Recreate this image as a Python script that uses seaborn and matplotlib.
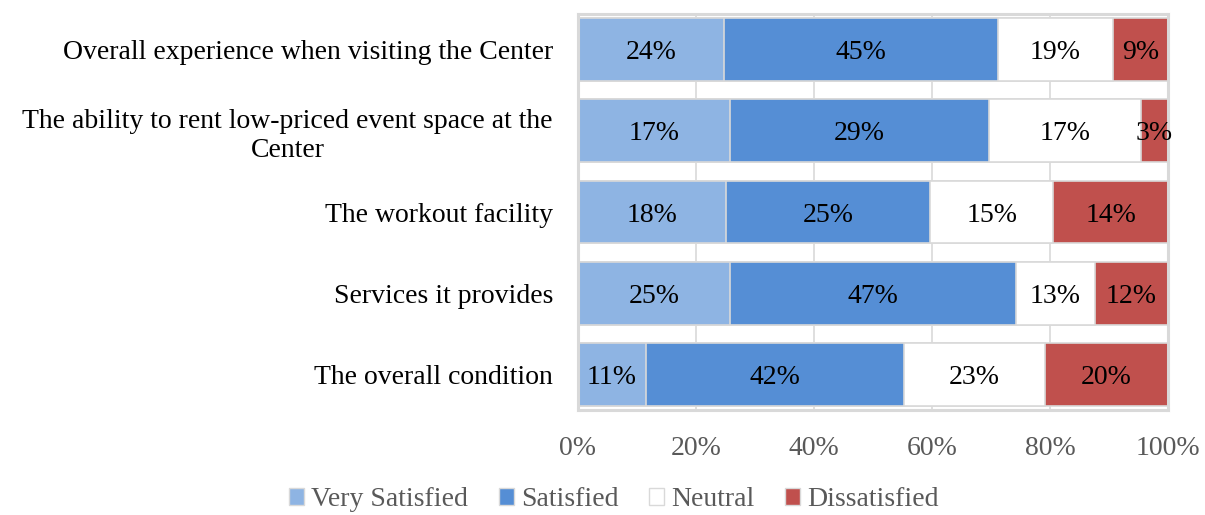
import numpy as np
import pandas as pd
import matplotlib
matplotlib.use("Agg")
import matplotlib.pyplot as plt
import seaborn as sns
from matplotlib.patches import Patch

categories = [
    "Overall experience when visiting the Center",
    "The ability to rent low-priced event space at the\nCenter",
    "The workout facility",
    "Services it provides",
    "The overall condition",
]
series_names = ["Very Satisfied", "Satisfied", "Neutral", "Dissatisfied"]
very_satisfied = [24, 17, 18, 25, 11]
satisfied = [45, 29, 25, 47, 42]
neutral = [19, 17, 15, 13, 23]
dissatisfied = [9, 3, 14, 12, 20]
x_ticks = [0, 20, 40, 60, 80, 100]
x_tick_labels = ["0%", "20%", "40%", "60%", "80%", "100%"]

colors = ["#8EB4E3", "#558ED5", "#FFFFFF", "#C0504D"]

sns.set_theme(style="white")
plt.rcParams["font.family"] = ["Liberation Serif", "DejaVu Serif"]
FS = 20

values = np.array([very_satisfied, satisfied, neutral, dissatisfied], dtype=float)
totals = values.sum(axis=0)
shares = values / totals * 100
cum = np.cumsum(shares, axis=0)

fig = plt.figure(figsize=(12.05, 5.15), dpi=100)
ax = fig.add_axes([578 / 1205, 1 - 410 / 515, 590 / 1205, 396 / 515])

# draw cumulative bars from the largest down so each segment shows
for i in range(len(series_names) - 1, -1, -1):
    df = pd.DataFrame({"cat": categories, "val": cum[i]})
    sns.barplot(data=df, y="cat", x="val", orient="y", color=colors[i],
                width=0.775, edgecolor="#D9D9D9", linewidth=1.2,
                saturation=1, ax=ax, zorder=2)

# data labels at segment centers
for i in range(len(series_names)):
    starts = cum[i] - shares[i]
    for j in range(len(categories)):
        ax.text(starts[j] + shares[i, j] / 2, j, f"{int(values[i, j])}%",
                ha="center", va="center_baseline", fontsize=FS, color="black", zorder=5)

ax.set_xlim(0, 100)
ax.set_ylim(4.44, -0.44)
ax.set_xticks(x_ticks)
ax.set_xticklabels(x_tick_labels, fontsize=FS, color="#595959")
ax.set_xlabel("")
ax.set_ylabel("")
ax.tick_params(axis="x", length=0, pad=19)
ax.tick_params(axis="y", length=0, pad=18, labelsize=FS, labelcolor="black")
for lab in ax.get_yticklabels():
    lab.set_multialignment("center")
    lab.set_linespacing(1.22)

ax.xaxis.grid(True, color="#D9D9D9", linewidth=1.2, zorder=0)
ax.yaxis.grid(False)
ax.set_axisbelow(True)
for s in ax.spines.values():
    s.set_visible(True)
    s.set_color("#D9D9D9")
    s.set_linewidth(2.2)

handles = [Patch(facecolor=c, edgecolor="#D9D9D9", linewidth=1) for c in colors]
fig.legend(handles, series_names, loc="center", bbox_to_anchor=(614 / 1205, 1 - 500 / 515),
           ncol=4, frameon=False, fontsize=FS, labelcolor="#595959",
           handlelength=0.55, handleheight=0.55, handletextpad=0.25, columnspacing=1.1)

fig.savefig("out.png", dpi=100)
